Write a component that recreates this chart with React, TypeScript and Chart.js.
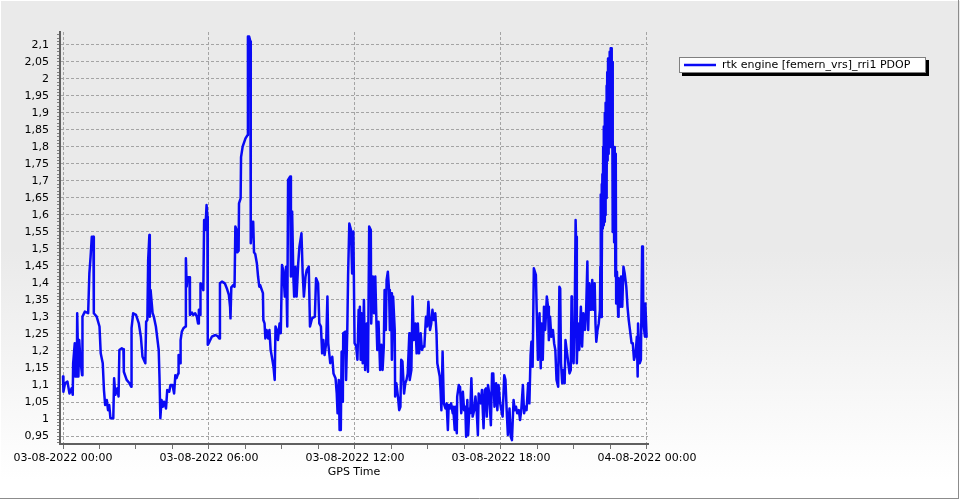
import React, { useEffect, useRef } from "react";
import { Chart, registerables } from "chart.js";

Chart.register(...registerables);

// ---- text ----
const seriesLabel = "rtk engine [femern_vrs]_rri1 PDOP";
const xAxisTitle = "GPS Time";

// ---- x axis (minutes since 03-08-2022 00:00) ----
const xMajorMinutes = [0, 360, 720, 1080, 1440];
const xTickLabels = [
  "03-08-2022 00:00",
  "03-08-2022 06:00",
  "03-08-2022 12:00",
  "03-08-2022 18:00",
  "04-08-2022 00:00",
];

// ---- y axis ----
const yTickValues = [
  0.95, 1, 1.05, 1.1, 1.15, 1.2, 1.25, 1.3, 1.35, 1.4, 1.45, 1.5, 1.55, 1.6,
  1.65, 1.7, 1.75, 1.8, 1.85, 1.9, 1.95, 2, 2.05, 2.1,
];
const yTickLabels = [
  "0,95", "1", "1,05", "1,1", "1,15", "1,2", "1,25", "1,3", "1,35", "1,4",
  "1,45", "1,5", "1,55", "1,6", "1,65", "1,7", "1,75", "1,8", "1,85", "1,9",
  "1,95", "2", "2,05", "2,1",
];

// ---- PDOP samples: [minute of day, PDOP] ----
const pdop00to04: [number, number][] = [
  [0, 1.125], [1, 1.08], [5, 1.105], [11, 1.11], [16, 1.075], [21, 1.09], [24, 1.071],
  [25, 1.164], [29, 1.223], [30, 1.125], [34, 1.125], [35, 1.311], [38, 1.125], [40, 1.232],
  [43, 1.174], [47, 1.129], [48, 1.301], [54, 1.316], [62, 1.311], [65, 1.428], [68, 1.477],
  [71, 1.536], [75, 1.536], [76, 1.311], [83, 1.301], [90, 1.272], [93, 1.193], [98, 1.164],
  [101, 1.085], [104, 1.041], [108, 1.056], [111, 1.026], [114, 1.041], [117, 1.002],
  [124, 1.002], [126, 1.12], [129, 1.071], [134, 1.09], [137, 1.066], [139, 1.203],
  [145, 1.208], [149, 1.205], [150, 1.139], [157, 1.115], [164, 1.105], [168, 1.095],
  [169, 1.267], [173, 1.311], [180, 1.306], [187, 1.281], [192, 1.242], [196, 1.183],
  [203, 1.164], [205, 1.286], [208, 1.291], [210, 1.468], [213, 1.541], [214, 1.301],
  [216, 1.379], [221, 1.311], [224, 1.301], [229, 1.272], [236, 1.203], [238, 1.12],
];
const pdop04to08: [number, number][] = [
  [240, 1.002], [243, 1.056], [246, 1.036], [249, 1.051], [254, 1.031], [257, 1.085],
  [262, 1.08], [265, 1.1], [270, 1.1], [274, 1.075], [277, 1.129], [280, 1.12], [284, 1.134],
  [285, 1.188], [289, 1.164], [290, 1.232], [293, 1.257], [297, 1.267], [302, 1.272],
  [303, 1.473], [305, 1.389], [307, 1.417], [312, 1.417], [313, 1.306], [318, 1.313],
  [321, 1.306], [326, 1.311], [330, 1.301], [333, 1.281], [335, 1.321], [338, 1.306],
  [339, 1.399], [343, 1.394], [346, 1.379], [348, 1.585], [351, 1.556], [354, 1.629],
  [356, 1.595], [357, 1.218], [361, 1.227], [367, 1.242], [376, 1.247], [381, 1.244],
  [385, 1.237], [387, 1.399], [392, 1.404], [399, 1.399], [404, 1.384], [409, 1.365],
  [412, 1.33], [413, 1.296], [415, 1.387], [420, 1.394], [423, 1.389], [425, 1.566],
  [428, 1.556], [430, 1.49], [433, 1.495], [434, 1.634], [438, 1.649], [439, 1.77],
  [443, 1.801], [450, 1.825], [455, 1.835], [456, 2.125], [459, 2.125], [462, 2.11],
  [463, 1.517], [466, 1.58], [468, 1.536], [469, 1.58], [471, 1.49], [474, 1.485],
  [478, 1.458], [481, 1.419], [484, 1.389],
];
const pdop08to12: [number, number][] = [
  [486, 1.394], [493, 1.37], [494, 1.291], [497, 1.281], [499, 1.237], [502, 1.262],
  [506, 1.237], [509, 1.262], [512, 1.203], [515, 1.183], [519, 1.154], [522, 1.115],
  [524, 1.272], [527, 1.262], [530, 1.232], [534, 1.281], [537, 1.252], [540, 1.453],
  [543, 1.438], [547, 1.36], [550, 1.448], [553, 1.272], [555, 1.703], [560, 1.713],
  [562, 1.419], [565, 1.61], [568, 1.419], [570, 1.36], [573, 1.448], [576, 1.36],
  [580, 1.458], [583, 1.507], [588, 1.546], [591, 1.428], [594, 1.36], [598, 1.419],
  [601, 1.438], [606, 1.448], [609, 1.272], [614, 1.296], [621, 1.301], [624, 1.414],
  [629, 1.399], [632, 1.281], [636, 1.272], [639, 1.193], [642, 1.232], [645, 1.188],
  [649, 1.223], [652, 1.36], [654, 1.223], [659, 1.164], [664, 1.183], [667, 1.134],
  [672, 1.12], [675, 1.075], [677, 1.017], [680, 1.115], [682, 0.968], [685, 0.968],
  [687, 1.198], [690, 1.051], [691, 1.252], [696, 1.257], [698, 1.115], [701, 1.262],
  [703, 1.424], [706, 1.575], [710, 1.556], [713, 1.428], [716, 1.551], [719, 1.223],
  [723, 1.213], [726, 1.174], [729, 1.321], [731, 1.262],
];
const pdop12to16: [number, number][] = [
  [732, 1.33], [734, 1.174], [736, 1.311], [739, 1.164], [742, 1.35], [745, 1.144],
  [749, 1.281], [752, 1.139], [755, 1.566], [759, 1.556], [760, 1.281], [764, 1.419],
  [767, 1.311], [770, 1.419], [773, 1.281], [775, 1.203], [778, 1.286], [782, 1.144],
  [785, 1.218], [788, 1.144], [791, 1.213], [793, 1.379], [796, 1.262], [798, 1.409],
  [801, 1.433], [804, 1.379], [806, 1.262], [809, 1.37], [811, 1.174], [814, 1.36],
  [818, 1.262], [819, 1.066], [822, 1.105], [826, 1.066], [829, 1.026], [832, 1.036],
  [834, 1.174], [837, 1.169], [841, 1.075], [844, 1.105], [847, 1.115], [850, 1.134],
  [854, 1.252], [855, 1.115], [859, 1.144], [862, 1.36], [865, 1.232], [869, 1.281],
  [872, 1.193], [875, 1.281], [878, 1.193], [882, 1.252], [885, 1.203], [888, 1.213],
  [891, 1.213], [895, 1.301], [898, 1.272], [901, 1.345], [905, 1.262], [908, 1.281],
  [911, 1.321], [914, 1.291], [918, 1.311], [921, 1.252], [923, 1.164], [926, 1.144],
  [929, 1.125], [931, 1.085], [933, 1.026], [936, 1.198], [939, 1.046], [943, 1.031],
  [946, 1.046], [949, 0.968], [951, 1.041], [954, 1.031], [957, 1.046], [961, 1.017],
  [962, 1.036], [966, 0.968], [967, 1.036], [971, 0.958], [972, 1.066], [976, 1.1],
  [977, 1.085],
];
const pdop16to20: [number, number][] = [
  [979, 1.095], [982, 1.017], [986, 1.08], [989, 1.026], [992, 1.036], [994, 0.948],
  [997, 1.056], [999, 0.953], [1002, 1.031], [1004, 1.017], [1007, 1.12], [1010, 1.007],
  [1014, 1.026], [1017, 1.066], [1020, 1.026], [1023, 0.953], [1025, 1.075], [1030, 1.046],
  [1033, 1.085], [1037, 0.973], [1040, 1.085], [1043, 1.09], [1045, 1.007], [1048, 1.1],
  [1051, 1.075], [1055, 0.982], [1058, 1.134], [1061, 1.134], [1064, 1.036], [1068, 1.105],
  [1071, 1.026], [1074, 1.1], [1078, 1.046], [1081, 1.026], [1084, 1.007], [1088, 1.129],
  [1091, 1.115], [1094, 1.026], [1097, 0.953], [1101, 1.031], [1104, 0.948], [1107, 0.938],
  [1111, 1.056], [1114, 1.026], [1117, 1.036], [1120, 1.017], [1124, 1.026], [1127, 0.997],
  [1130, 1.026], [1134, 1.1], [1137, 1.017], [1140, 1.036], [1143, 1.026], [1147, 1.105],
  [1150, 1.046], [1153, 1.188], [1155, 1.227], [1158, 1.154], [1161, 1.443], [1166, 1.424],
  [1168, 1.321], [1171, 1.174], [1175, 1.311], [1178, 1.149], [1180, 1.281], [1183, 1.174],
  [1186, 1.33], [1189, 1.262], [1193, 1.36], [1196, 1.33], [1198, 1.232], [1201, 1.301],
  [1204, 1.242], [1208, 1.262], [1211, 1.223], [1214, 1.203], [1217, 1.115], [1221, 1.095],
  [1224, 1.389],
];
const pdop20to24: [number, number][] = [
  [1226, 1.384], [1228, 1.164], [1231, 1.105], [1234, 1.144], [1237, 1.105], [1239, 1.232],
  [1242, 1.203], [1245, 1.174], [1249, 1.134], [1252, 1.144], [1254, 1.36], [1255, 1.203],
  [1259, 1.164], [1262, 1.33], [1264, 1.585], [1265, 1.536], [1267, 1.164], [1270, 1.281],
  [1273, 1.203], [1277, 1.33], [1280, 1.213], [1283, 1.311], [1287, 1.262], [1290, 1.321],
  [1293, 1.463], [1295, 1.262], [1298, 1.399], [1302, 1.321], [1305, 1.409], [1308, 1.321],
  [1311, 1.399], [1313, 1.281], [1315, 1.227], [1318, 1.262], [1321, 1.281], [1324, 1.321],
  [1325, 1.448], [1326, 1.66], [1327, 1.3], [1328, 1.69], [1329, 1.45], [1330, 1.72],
  [1331, 1.56], [1332, 1.8], [1333, 1.57], [1334, 1.86], [1335, 1.58], [1336, 1.9],
  [1337, 1.6], [1338, 1.93], [1339, 1.65], [1340, 1.98], [1341, 1.7], [1342, 2.02],
  [1343, 1.76], [1344, 2.06], [1345, 1.78], [1346, 2.06], [1347, 1.8], [1348, 2.08],
  [1349, 1.8], [1350, 2.09], [1351, 1.82], [1352, 2.09], [1353, 1.84], [1354, 2.05],
  [1355, 1.55], [1356, 1.82], [1357, 1.55], [1358, 1.8], [1359, 1.52], [1360, 1.8],
  [1361, 1.79], [1362, 1.42], [1363, 1.78], [1364, 1.34], [1366, 1.433], [1369, 1.301],
  [1370, 1.414], [1374, 1.33], [1376, 1.419], [1379, 1.33], [1382, 1.448], [1385, 1.428],
  [1389, 1.389], [1392, 1.33], [1395, 1.291], [1398, 1.262], [1402, 1.223], [1405, 1.223],
  [1408, 1.174], [1412, 1.193], [1415, 1.242], [1417, 1.125], [1418, 1.281], [1422, 1.164],
  [1425, 1.174], [1428, 1.507], [1430, 1.487], [1431, 1.281], [1435, 1.242], [1436, 1.34],
  [1439, 1.242],
];

const LINE_COLOR = "#0a0af5";
const FONT = { family: "'DejaVu Sans', Verdana, sans-serif", size: 11 };

const isYMajor = (v: number) => yTickValues.some((t) => Math.abs(t - v) < 1e-6);
const isXMajor = (v: number) => xMajorMinutes.some((t) => Math.abs(t - v) < 1e-6);

const frameBackground = {
  id: "frameBackground",
  beforeDraw(chart: any) {
    const { ctx, width, height } = chart;
    ctx.save();
    const g = ctx.createLinearGradient(0, 0, 0, height);
    g.addColorStop(0, "#eaeaea");
    g.addColorStop(0.5, "#eaeaea");
    g.addColorStop(0.96, "#ffffff");
    g.addColorStop(1, "#ffffff");
    ctx.fillStyle = g;
    ctx.fillRect(0, 0, width, height);
    ctx.lineWidth = 1;
    ctx.strokeStyle = "#ffffff";
    ctx.beginPath();
    ctx.moveTo(0, 0.5);
    ctx.lineTo(width, 0.5);
    ctx.moveTo(0.5, 0);
    ctx.lineTo(0.5, height);
    ctx.stroke();
    ctx.strokeStyle = "#8c8c8c";
    ctx.beginPath();
    ctx.moveTo(0, height - 1.5);
    ctx.lineTo(width - 1, height - 1.5);
    ctx.moveTo(width - 1.5, 0);
    ctx.lineTo(width - 1.5, height - 1);
    ctx.stroke();
    ctx.restore();
  },
};

const boxLegend = {
  id: "boxLegend",
  afterDraw(chart: any) {
    const { ctx } = chart;
    const ds = chart.data.datasets[0];
    ctx.save();
    ctx.font = "11px 'DejaVu Sans'";
    const textW = ctx.measureText(ds.label).width;
    const bx = 679;
    const by = 57;
    const bh = 16;
    const bw = Math.max(247, 52 + textW);
    ctx.fillStyle = "#000000";
    ctx.fillRect(bx + 3, by + 3, bw, bh);
    ctx.fillStyle = "#ffffff";
    ctx.fillRect(bx, by, bw, bh);
    ctx.strokeStyle = "#808080";
    ctx.lineWidth = 1;
    ctx.strokeRect(bx + 0.5, by + 0.5, bw - 1, bh - 1);
    ctx.strokeStyle = ds.borderColor;
    ctx.lineWidth = 2.5;
    ctx.beginPath();
    ctx.moveTo(bx + 5, by + 8);
    ctx.lineTo(bx + 37, by + 8);
    ctx.stroke();
    ctx.fillStyle = "#000000";
    ctx.textBaseline = "middle";
    ctx.textAlign = "left";
    ctx.fillText(ds.label, bx + 43, by + 8.5);
    ctx.restore();
  },
};

export default function App() {
  const canvasRef = useRef<HTMLCanvasElement | null>(null);

  useEffect(() => {
    if (!canvasRef.current) return;
    const samples = [
      ...pdop00to04,
      ...pdop04to08,
      ...pdop08to12,
      ...pdop12to16,
      ...pdop16to20,
      ...pdop20to24,
    ];
    const xMinorTicks: number[] = [];
    for (let m = 0; m <= 1440; m += 90) xMinorTicks.push(m);
    const yMinorTicks: number[] = [];
    for (let i = 93; i <= 213; i++) yMinorTicks.push(i / 100);

    const chart = new Chart(canvasRef.current, {
      type: "line",
      data: {
        datasets: [
          {
            label: seriesLabel,
            data: samples.map(([x, y]) => ({ x, y })),
            borderColor: LINE_COLOR,
            backgroundColor: LINE_COLOR,
            borderWidth: 2.5,
            pointRadius: 0,
            tension: 0,
            fill: false,
            borderJoinStyle: "round",
            borderCapStyle: "round",
          },
        ],
      },
      options: {
        animation: false,
        responsive: false,
        events: [],
        layout: { padding: { left: 8, top: 32, right: 312, bottom: 16 } },
        plugins: {
          legend: { display: false },
          tooltip: { enabled: false },
        },
        scales: {
          x: {
            type: "linear",
            min: -7.4,
            max: 1442.5,
            afterBuildTicks: (s: any) => {
              s.ticks = xMinorTicks.map((v) => ({ value: v }));
            },
            afterFit: (s: any) => {
              s.height = 40;
            },
            ticks: {
              autoSkip: false,
              maxRotation: 0,
              minRotation: 0,
              padding: 3,
              color: "#000000",
              font: FONT,
              callback: (v: any) => {
                const i = xMajorMinutes.findIndex((t) => Math.abs(t - Number(v)) < 1e-6);
                return i >= 0 ? xTickLabels[i] : "";
              },
            },
            grid: {
              color: (c: any) => (c.tick && isXMajor(c.tick.value) ? "#a4a4a4" : "rgba(0,0,0,0)"),
              lineWidth: 1,
              tickLength: 5,
              tickColor: "#707070",
              tickBorderDash: [],
            },
            border: { display: true, color: "#606060", width: 2, dash: [3, 2] },
            title: {
              display: true,
              text: xAxisTitle,
              color: "#000000",
              font: FONT,
              padding: { top: 0, bottom: 5 },
            },
          },
          y: {
            type: "linear",
            min: 0.9265,
            max: 2.138,
            afterBuildTicks: (s: any) => {
              s.ticks = yMinorTicks.map((v) => ({ value: v }));
            },
            afterFit: (s: any) => {
              s.width = 52;
            },
            ticks: {
              autoSkip: false,
              padding: 8,
              color: "#000000",
              font: FONT,
              callback: (v: any) => {
                const i = yTickValues.findIndex((t) => Math.abs(t - Number(v)) < 1e-6);
                return i >= 0 ? yTickLabels[i] : "";
              },
            },
            grid: {
              color: (c: any) => (c.tick && isYMajor(c.tick.value) ? "#a4a4a4" : "rgba(0,0,0,0)"),
              lineWidth: 1,
              tickLength: 3,
              tickColor: "#808080",
              tickBorderDash: [],
            },
            border: { display: true, color: "#606060", width: 2, dash: [3, 2] },
          },
        },
      },
      plugins: [frameBackground, boxLegend],
    } as any);

    return () => chart.destroy();
  }, []);

  return (
    <div style={{ position: "fixed", left: 0, top: 0, width: 960, height: 500 }}>
      <canvas ref={canvasRef} width={960} height={500} style={{ display: "block" }} />
    </div>
  );
}
